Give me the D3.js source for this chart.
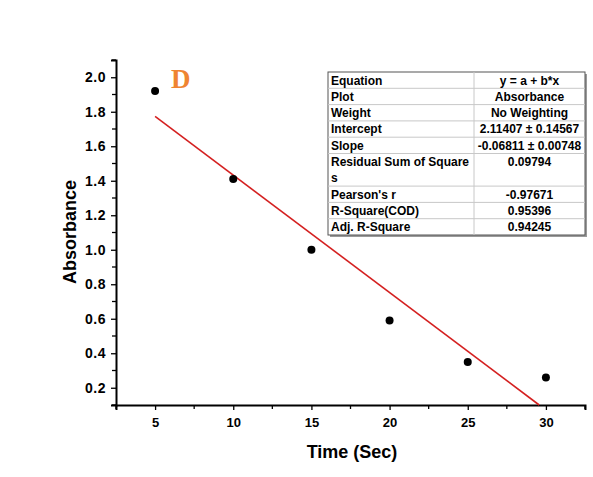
<!DOCTYPE html>
<html>
<head>
<meta charset="utf-8">
<script src="https://cdn.jsdelivr.net/npm/d3@7"></script>
<style>
body{margin:0;background:#fff;}
text{font-family:"Liberation Sans",Arial,sans-serif;}
</style>
</head>
<body>
<script>
// data
var times = [5, 10, 15, 20, 25, 30];
var absorbance = [1.92, 1.41, 1.00, 0.59, 0.35, 0.26];
var fitA = 2.11407, fitB = -0.06811;
var fitX = [5, 29.57];
var xTicks = [5, 10, 15, 20, 25, 30];
var yTicks = [0.2, 0.4, 0.6, 0.8, 1.0, 1.2, 1.4, 1.6, 1.8, 2.0];
var tableLabels = ["Equation", "Plot", "Weight", "Intercept", "Slope", "Residual Sum of Square\ns", "Pearson's r", "R-Square(COD)", "Adj. R-Square"];
var tableValues = ["y = a + b*x", "Absorbance", "No Weighting", "2.11407 \u00b1 0.14567", "-0.06811 \u00b1 0.00748", "0.09794", "-0.97671", "0.95396", "0.94245"];

var width = 593, height = 477;
var pLeft = 116, pRight = 585, pTop = 60, pBottom = 405;

var svg = d3.select("body").append("svg").attr("width", width).attr("height", height);

var x = d3.scaleLinear().domain([2.5, 32.5]).range([pLeft, pRight]);
var y = d3.scaleLinear().domain([0.1, 2.1]).range([pBottom, pTop]);

// x axis
var xAxis = d3.axisBottom(x).tickValues(xTicks).tickSize(5).tickFormat(d3.format("d"));
var gx = svg.append("g").attr("transform", "translate(0," + pBottom + ")").call(xAxis);
gx.append("g").selectAll("line").data(d3.range(2.5, 33, 5)).join("line")
  .attr("x1", d => x(d)).attr("x2", d => x(d)).attr("y1", 0).attr("y2", 4)
  .attr("stroke", "#000").attr("stroke-width", 1.3);

// y axis
var yAxis = d3.axisLeft(y).tickValues(yTicks).tickSize(5).tickFormat(d3.format(".1f"));
var gy = svg.append("g").attr("transform", "translate(" + pLeft + ",0)").call(yAxis);
gy.append("g").selectAll("line").data([0.1, 0.3, 0.5, 0.7, 0.9, 1.1, 1.3, 1.5, 1.7, 1.9, 2.1]).join("line")
  .attr("x1", 0).attr("x2", -4).attr("y1", d => y(d)).attr("y2", d => y(d))
  .attr("stroke", "#000").attr("stroke-width", 1.3);

[gx, gy].forEach(function(g){
  g.select(".domain").attr("stroke-width", 2);
  g.selectAll(".tick line").attr("stroke-width", 1.3);
  g.selectAll(".tick text").attr("font-size", 13).attr("font-weight", "bold").attr("fill", "#000");
});
gx.selectAll(".tick text").attr("dy", "1.1em");
gy.selectAll(".tick text").attr("x", -10).attr("font-size", 14).attr("letter-spacing", 0.5);

// fit line
svg.append("line")
  .attr("x1", x(fitX[0])).attr("y1", y(fitA + fitB * fitX[0]))
  .attr("x2", x(fitX[1])).attr("y2", y(fitA + fitB * fitX[1]))
  .attr("stroke", "#d42020").attr("stroke-width", 1.6);

// points
svg.selectAll("circle.pt").data(times).join("circle")
  .attr("class", "pt")
  .attr("cx", d => x(d)).attr("cy", (d, i) => y(absorbance[i]))
  .attr("r", 4).attr("fill", "#000");

// axis titles
svg.append("text").attr("x", 352).attr("y", 458).attr("text-anchor", "middle")
  .attr("font-size", 18).attr("font-weight", "bold").text("Time (Sec)");
svg.append("text").attr("transform", "translate(76,232) rotate(-90)").attr("text-anchor", "middle")
  .attr("font-size", 18).attr("font-weight", "bold").text("Absorbance");

// panel label
svg.append("text").attr("x", 171).attr("y", 88).attr("font-size", 27).attr("font-weight", "bold")
  .attr("fill", "#ef8432").style("font-family", "'Liberation Serif','Times New Roman',serif").text("D");

// stats table
var tx = 328, ty = 72, tw = 257, col = 474, rh = 16.3;
var rowSpan = [1, 1, 1, 1, 1, 2, 1, 1, 1];
var rowY = [ty];
rowSpan.forEach(function(s, i){ rowY.push(rowY[i] + s * rh); });
var tb = svg.append("g");
tb.append("rect").attr("x", tx + 2).attr("y", ty + 2).attr("width", tw).attr("height", rowY[9] - ty)
  .attr("fill", "#9a9a9a");
tb.append("rect").attr("x", tx).attr("y", ty).attr("width", tw).attr("height", rowY[9] - ty)
  .attr("fill", "#fff").attr("stroke", "#555").attr("stroke-width", 1);
tb.selectAll("line.row").data(rowY.slice(1, 9)).join("line")
  .attr("x1", tx).attr("x2", tx + tw).attr("y1", d => d).attr("y2", d => d)
  .attr("stroke", "#c8c8c8");
tb.append("line").attr("x1", col).attr("x2", col).attr("y1", ty).attr("y2", rowY[9]).attr("stroke", "#c8c8c8");
tableLabels.forEach(function(lab, i){
  lab.split("\n").forEach(function(part, j){
    tb.append("text").attr("x", tx + 3).attr("y", rowY[i] + 12.5 + j * rh)
      .attr("font-size", 12).attr("font-weight", "bold").text(part);
  });
  tb.append("text").attr("x", (col + tx + tw) / 2).attr("y", rowY[i] + 12.5)
    .attr("text-anchor", "middle").attr("font-size", 12).attr("font-weight", "bold").text(tableValues[i]);
});
</script>
</body>
</html>
